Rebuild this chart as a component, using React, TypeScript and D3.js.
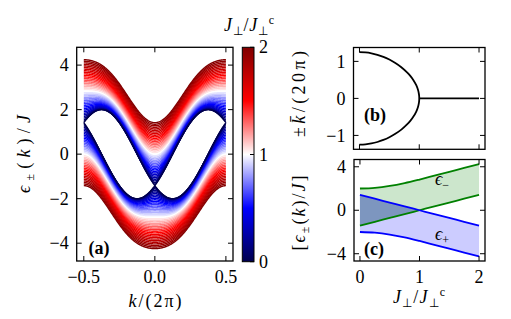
import * as d3 from "d3";

// coupling ratios J_perp / J_perp^c drawn in panel (a), one curve per band each
const couplingRatios = [
  0, 0.05, 0.1, 0.15, 0.2, 0.25, 0.3, 0.35, 0.4, 0.45, 0.5, 0.55, 0.6, 0.65, 0.7, 0.75, 0.8, 0.85, 0.9, 0.95, 1,
  1.05, 1.1, 1.15, 1.2, 1.25, 1.3, 1.35, 1.4, 1.45, 1.5, 1.55, 1.6, 1.65, 1.7, 1.75, 1.8, 1.85, 1.9, 1.95, 2,
];
// band model: half-bandwidth 2, spin-orbit phase pi/4, J_perp^c = sqrt(2)
const hopping = 2;
const soPhase = Math.PI / 4;
const criticalCoupling = Math.SQRT2;

// panel (b): momentum of the band minimum
const ratioB = [0, 0.1, 0.2, 0.3, 0.4, 0.5, 0.6, 0.7, 0.8, 0.85, 0.9, 0.95, 0.98, 0.995, 0.999, 1];
const kbarB = [1.25, 1.242, 1.218, 1.178, 1.122, 1.049, 0.957, 0.843, 0.697, 0.607, 0.498, 0.356, 0.225, 0.112, 0.05, 0];
const ratioFlat = [1, 2];
const kbarFlat = [0, 0];

// panel (c): band edges
const ratioC = [0, 0.25, 0.5, 0.75, 1, 1.25, 1.5, 1.75, 2];
const minusTop = [2.0, 2.062, 2.236, 2.5, 2.828, 3.182, 3.536, 3.889, 4.243];
const minusBottom = [-1.414, -1.061, -0.707, -0.354, 0, 0.354, 0.707, 1.061, 1.414];
const plusTop = [1.414, 1.061, 0.707, 0.354, 0, -0.354, -0.707, -1.061, -1.414];
const plusBottom = [-2.0, -2.062, -2.236, -2.5, -2.828, -3.182, -3.536, -3.889, -4.243];

const kTicks = [-0.5, 0, 0.5];
const eTicksA = [-4, -2, 0, 2, 4];
const ratioTicks = [0, 1, 2];
const kbarTicks = [-1, 0, 1];
const eTicksC = [-4, 0, 4];
const cbarTicks = [0, 1, 2];

const FONT = "Liberation Serif, Times New Roman, serif";
const FS = 18;
const SUB = 12;

// matplotlib "seismic"
const seismic = d3
  .scaleLinear<string>()
  .domain([0, 0.5, 1, 1.5, 2])
  .range(["#00004d", "#0000ff", "#ffffff", "#ff0000", "#800000"]);

function band(kUnit: number, ratio: number, sign: number) {
  const q = 2 * Math.PI * kUnit;
  const a = hopping * Math.cos(soPhase);
  const b = hopping * Math.sin(soPhase);
  const j = ratio * criticalCoupling;
  return -a * Math.cos(q) + sign * Math.sqrt(b * b * Math.sin(q) ** 2 + j * j);
}

type Lin = d3.ScaleLinear<number, number>;

function Frame({ x, y, xt, yt, xfmt, yfmt }: { x: Lin; y: Lin; xt: number[]; yt: number[]; xfmt?: (d: number) => string; yfmt: (d: number) => string }) {
  const [x0, x1] = x.range();
  const [y0, y1] = y.range();
  const T = 5;
  return (
    <g>
      {xt.map((v) => (
        <g key={"x" + v}>
          <line x1={x(v)} x2={x(v)} y1={y0} y2={y0 - T} stroke="#000" />
          <line x1={x(v)} x2={x(v)} y1={y1} y2={y1 + T} stroke="#000" />
          {xfmt && (
            <text x={x(v)} y={y0 + 9} dy="0.71em" textAnchor="middle" fontFamily={FONT} fontSize={FS}>
              {xfmt(v)}
            </text>
          )}
        </g>
      ))}
      {yt.map((v) => (
        <g key={"y" + v}>
          <line x1={x0} x2={x0 + T} y1={y(v)} y2={y(v)} stroke="#000" />
          <line x1={x1} x2={x1 - T} y1={y(v)} y2={y(v)} stroke="#000" />
          <text x={x0 - 8} y={y(v)} dy="0.34em" textAnchor="end" fontFamily={FONT} fontSize={FS}>
            {yfmt(v)}
          </text>
        </g>
      ))}
      <rect x={x0} y={y1} width={x1 - x0} height={y0 - y1} fill="none" stroke="#000" strokeWidth={1.3} />
    </g>
  );
}

type Piece = { t: string; it?: boolean; sub?: boolean; sup?: boolean };

function Label({ cx, cy, pieces, len, rotate, bold }: { cx: number; cy: number; pieces: Piece[]; len?: number; rotate?: boolean; bold?: boolean }) {
  let shift = 0;
  const spans = pieces.map((p, i) => {
    const target = p.sub ? 4 : p.sup ? -7 : 0;
    const dy = target - shift;
    shift = target;
    return (
      <tspan key={i} dy={dy} fontStyle={p.it ? "italic" : "normal"} fontSize={p.sub || p.sup ? SUB : FS}>
        {p.t}
      </tspan>
    );
  });
  return (
    <text
      transform={`translate(${cx},${cy})${rotate ? " rotate(-90)" : ""}`}
      textAnchor="middle"
      textLength={len}
      lengthAdjust={len ? "spacing" : undefined}
      fontFamily={FONT}
      fontSize={FS}
      fontWeight={bold ? "bold" : "normal"}
    >
      {spans}
    </text>
  );
}

const fmtInt = d3.format("d");
const fmt1 = d3.format(".1f");

export default function App() {
  // ---------- panel (a)
  const xa = d3.scaleLinear().domain([-0.55, 0.55]).range([76.7, 233]);
  const ya = d3.scaleLinear().domain([-4.8, 4.8]).range([261, 47.3]);
  const ks = d3.range(-200, 201).map((i) => i / 400);
  const bandPaths = [...couplingRatios].reverse().flatMap((r) =>
    [1, -1].map((sign) => ({
      r,
      d: d3
        .line<number>()
        .x((k) => xa(k))
        .y((k) => ya(band(k, r, sign)))(ks) as string,
    }))
  );

  // ---------- colorbar
  const cb = { x0: 242.3, x1: 254, y0: 261.7, y1: 47.3 };
  const ycb = d3.scaleLinear().domain([0, 2]).range([cb.y0, cb.y1]);
  const stops = d3.range(0, 21).map((i) => i / 10);

  // ---------- panel (b)
  const xr = d3.scaleLinear().domain([-0.1, 2.1]);
  const xb = xr.copy().range([353.5, 485]);
  const yb = d3.scaleLinear().domain([-1.375, 1.375]).range([149.3, 47.5]);
  const arc: [number, number][] = [
    ...ratioB.map((r, i) => [r, kbarB[i]] as [number, number]),
    ...ratioB
      .slice(0, -1)
      .map((r, i) => [r, -kbarB[i]] as [number, number])
      .reverse(),
  ];
  const arcPath = d3
    .line<[number, number]>()
    .x((d) => xb(d[0]))
    .y((d) => yb(d[1]))
    .curve(d3.curveCatmullRom.alpha(0.5))(arc) as string;
  const flatPath = d3
    .line<number>()
    .x((r) => xb(r))
    .y((_, i) => yb(kbarFlat[i]))(ratioFlat) as string;

  // ---------- panel (c)
  const xc = xr.copy().range([354, 485]);
  const yc = d3.scaleLinear().domain([-4.67, 4.67]).range([261, 159.5]);
  const area = (lo: number[], hi: number[], xs: number[]) =>
    d3
      .area<number>()
      .x((r) => xc(r))
      .y0((_, i) => yc(lo[i]))
      .y1((_, i) => yc(hi[i]))
      .curve(d3.curveMonotoneX)(xs) as string;
  const lineC = (vals: number[]) =>
    d3
      .line<number>()
      .x((r) => xc(r))
      .y((_, i) => yc(vals[i]))
      .curve(d3.curveMonotoneX)(ratioC) as string;

  const jLabel: Piece[] = [
    { t: "J", it: true },
    { t: "⊥", sub: true },
    { t: "/" },
    { t: "J", it: true },
    { t: "⊥", sub: true },
    { t: "c", sup: true },
  ];
  const epsLabel: Piece[] = [
    { t: "ϵ", it: true },
    { t: "±", sub: true },
    { t: "(" },
    { t: "k", it: true },
    { t: ")/" },
    { t: "J", it: true },
  ];

  return (
    <svg width={511} height={319} viewBox="0 0 511 319" style={{ display: "block", margin: -8 }}>
      <rect width={511} height={319} fill="#fff" />
      <defs>
        <linearGradient id="seis" x1={0} y1={1} x2={0} y2={0}>
          {stops.map((v) => (
            <stop key={v} offset={v / 2} stopColor={seismic(v)} />
          ))}
        </linearGradient>
      </defs>

      {/* panel (a) */}
      <g>
        {bandPaths.map((p, i) => (
          <path key={i} d={p.d} fill="none" stroke={seismic(p.r)} strokeWidth={1.4} />
        ))}
      </g>
      <Frame x={xa} y={ya} xt={kTicks} yt={eTicksA} xfmt={fmt1} yfmt={fmtInt} />
      <Label cx={99} cy={254} pieces={[{ t: "(a)" }]} bold />
      <Label cx={155} cy={307} pieces={[{ t: "k", it: true }, { t: "/(2π)" }]} len={53} />
      <Label cx={30} cy={154} pieces={epsLabel} len={78} rotate />

      {/* colorbar */}
      <rect x={cb.x0} y={cb.y1} width={cb.x1 - cb.x0} height={cb.y0 - cb.y1} fill="url(#seis)" stroke="#000" strokeWidth={1} />
      {cbarTicks.map((v) => (
        <g key={v}>
          <line x1={cb.x1} x2={cb.x1 - 4} y1={ycb(v)} y2={ycb(v)} stroke="#000" />
          <text x={cb.x1 + 5} y={ycb(v)} dy="0.34em" fontFamily={FONT} fontSize={FS}>
            {fmtInt(v)}
          </text>
        </g>
      ))}
      <Label cx={249} cy={31} pieces={jLabel} len={50} />

      {/* panel (b) */}
      <path d={arcPath} fill="none" stroke="#000" strokeWidth={1.8} />
      <path d={flatPath} fill="none" stroke="#000" strokeWidth={1.8} />
      <Frame x={xb} y={yb} xt={ratioTicks} yt={kbarTicks} yfmt={fmtInt} />
      <Label cx={375} cy={121} pieces={[{ t: "(b)" }]} bold />
      <Label cx={305} cy={94} pieces={[{ t: "±" }, { t: "k̄", it: true }, { t: "/(20π)" }]} len={86} rotate />

      {/* panel (c) */}
      <path d={area(minusBottom, minusTop, ratioC)} fill="#008000" fillOpacity={0.2} />
      <path d={area(plusBottom, plusTop, ratioC)} fill="#0000ff" fillOpacity={0.2} />
      <path d={area(minusBottom, plusTop, ratioC.slice(0, 5))} fill="#7d96bf" />
      {[minusTop, minusBottom].map((v, i) => (
        <path key={"g" + i} d={lineC(v)} fill="none" stroke="#008000" strokeWidth={1.8} />
      ))}
      {[plusTop, plusBottom].map((v, i) => (
        <path key={"b" + i} d={lineC(v)} fill="none" stroke="#0000ff" strokeWidth={1.8} />
      ))}
      <Frame x={xc} y={yc} xt={ratioTicks} yt={eTicksC} xfmt={fmtInt} yfmt={fmtInt} />
      <Label cx={374} cy={255} pieces={[{ t: "(c)" }]} bold />
      <Label cx={442} cy={185} pieces={[{ t: "ϵ", it: true }, { t: "−", sub: true }]} />
      <Label cx={442} cy={240} pieces={[{ t: "ϵ", it: true }, { t: "+", sub: true }]} />
      <Label cx={305} cy={213} pieces={[{ t: "[" }, ...epsLabel, { t: "]" }]} len={75} rotate />
      <Label cx={419} cy={303} pieces={jLabel} len={52} />
    </svg>
  );
}
